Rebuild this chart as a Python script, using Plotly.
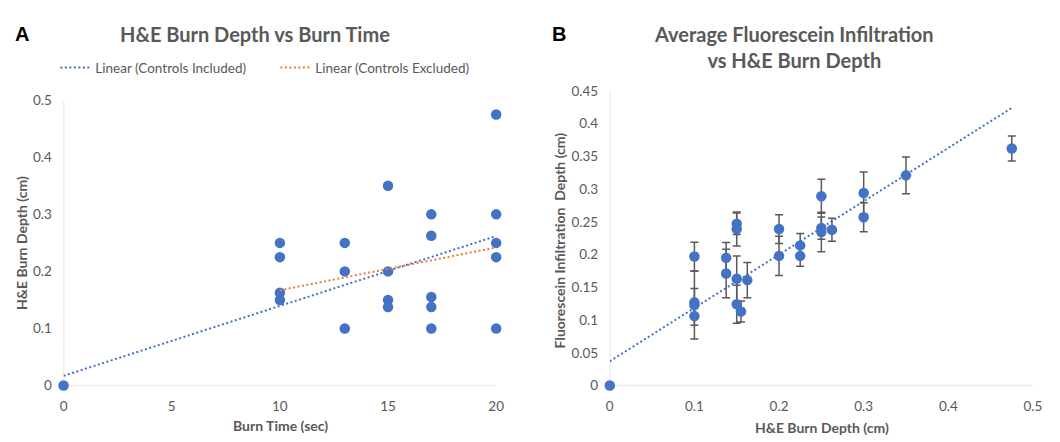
import plotly.graph_objects as go

# ---------------- Panel A data ----------------
burn_time = [0, 10, 10, 10, 10, 13, 13, 13, 15, 15, 15, 15, 17, 17, 17, 17, 17, 20, 20, 20, 20, 20]
burn_depth = [0, 0.25, 0.225, 0.1625, 0.15, 0.25, 0.2, 0.1, 0.35, 0.2, 0.15, 0.1375,
              0.3, 0.2625, 0.155, 0.1375, 0.1, 0.475, 0.3, 0.25, 0.225, 0.1]
trend_incl_x = [0, 20]
trend_incl_y = [0.017, 0.262]
trend_excl_x = [10, 20]
trend_excl_y = [0.167, 0.242]

# ---------------- Panel B data ----------------
he_depth = [0, 0.1, 0.1, 0.1, 0.1, 0.1375, 0.1375, 0.15, 0.15, 0.15, 0.15, 0.155, 0.1625,
            0.2, 0.2, 0.225, 0.225, 0.25, 0.25, 0.25, 0.2625, 0.3, 0.3, 0.35, 0.475]
fluor_depth = [0, 0.197, 0.127, 0.123, 0.106, 0.195, 0.171, 0.247, 0.239, 0.163, 0.124, 0.113, 0.161,
               0.239, 0.198, 0.214, 0.198, 0.289, 0.2405, 0.2345, 0.238, 0.294, 0.257, 0.321, 0.362]
fluor_err = [None, 0.022, 0.021, 0.052, 0.014, 0.0235, 0.037, 0.0165, 0.026, 0.035, 0.029, 0.016, 0.027,
             0.022, 0.030, 0.018, 0.016, 0.026, 0.017, 0.030, 0.0175, 0.032, 0.022, 0.028, 0.019]
trend_b_x = [0, 0.475]
trend_b_y = [0.037, 0.424]

BLUE = "#4472C4"
ORANGE = "#ED7D31"
GREY = "#595959"
AXIS = "#D9D9D9"
FONT = "Lato, Carlito, Calibri, sans-serif"

W, H = 1060, 442

fig = go.Figure()

# Panel A
fig.add_trace(go.Scatter(x=burn_time, y=burn_depth, mode="markers",
                         marker=dict(color=BLUE, size=10.5), showlegend=False,
                         cliponaxis=False, xaxis="x", yaxis="y"))
fig.add_trace(go.Scatter(x=trend_incl_x, y=trend_incl_y, mode="lines",
                         line=dict(color=BLUE, width=2, dash="2px,2.5px"),
                         name="Linear (Controls Included)", xaxis="x", yaxis="y"))
fig.add_trace(go.Scatter(x=trend_excl_x, y=trend_excl_y, mode="lines",
                         line=dict(color=ORANGE, width=2, dash="2px,2.5px"),
                         name="Linear (Controls Excluded)", xaxis="x", yaxis="y"))

# Panel B
fig.add_trace(go.Scatter(x=trend_b_x, y=trend_b_y, mode="lines",
                         line=dict(color=BLUE, width=2, dash="2px,2.5px"),
                         showlegend=False, xaxis="x2", yaxis="y2"))
fig.add_trace(go.Scatter(x=he_depth, y=fluor_depth, mode="markers",
                         marker=dict(color=BLUE, size=10.5), showlegend=False,
                         error_y=dict(type="data", array=fluor_err, visible=True,
                                      color=GREY, thickness=1.5, width=4),
                         cliponaxis=False, xaxis="x2", yaxis="y2"))

def px_x(p):
    return p / W

def px_y(p):
    return 1 - p / H

axis_common = dict(showgrid=False, zeroline=False, showline=False,
                   tickfont=dict(family=FONT, size=13.5, color=GREY),
                   ticks="outside", tickcolor="rgba(0,0,0,0)")

fig.update_layout(
    width=W, height=H,
    margin=dict(l=0, r=0, t=0, b=0),
    paper_bgcolor="white", plot_bgcolor="white",
    font=dict(family=FONT, color=GREY),
    xaxis=dict(domain=[px_x(60.3), px_x(498.3)], range=[0, 20], tickvals=[0, 5, 10, 15, 20],
               ticklen=8, anchor="y", **axis_common),
    yaxis=dict(domain=[px_y(391.7), px_y(95.7)], range=[0, 0.5],
               tickvals=[0, 0.1, 0.2, 0.3, 0.4, 0.5], ticklen=8, anchor="x", **axis_common),
    xaxis2=dict(domain=[px_x(613.3), px_x(1041.7)], range=[0, 0.5],
                tickvals=[0, 0.1, 0.2, 0.3, 0.4, 0.5], ticklen=8, anchor="y2", **axis_common),
    yaxis2=dict(domain=[px_y(391.7), px_y(86)], range=[0, 0.45],
                tickvals=[0, 0.05, 0.1, 0.15, 0.2, 0.25, 0.3, 0.35, 0.4, 0.45],
                ticklen=8, anchor="x2", **axis_common),
    legend=dict(orientation="h", x=px_x(52), y=px_y(62), xanchor="left", yanchor="middle",
                font=dict(family=FONT, size=13.5, color=GREY),
                entrywidth=175, entrywidthmode="pixels",
                bgcolor="rgba(0,0,0,0)", borderwidth=0, tracegroupgap=0),
    showlegend=True,
)

# Axis lines (x = 0 and y = 0)
fig.add_shape(type="line", xref="x", yref="y", x0=0, x1=20, y0=0, y1=0,
              line=dict(color=AXIS, width=1.3), layer="below")
fig.add_shape(type="line", xref="x", yref="y", x0=0, x1=0, y0=0, y1=0.5,
              line=dict(color=AXIS, width=1.3), layer="below")
fig.add_shape(type="line", xref="x2", yref="y2", x0=0, x1=0.5, y0=0, y1=0,
              line=dict(color=AXIS, width=1.3), layer="below")
fig.add_shape(type="line", xref="x2", yref="y2", x0=0, x1=0, y0=0, y1=0.45,
              line=dict(color=AXIS, width=1.3), layer="below")

annotations = [
    dict(text="<b>A</b>", x=px_x(18), y=px_y(27), font=dict(family="Arial", size=20, color="black")),
    dict(text="<b>B</b>", x=px_x(562), y=px_y(27), font=dict(family="Arial", size=20, color="black")),
    dict(text="<b>H&E Burn Depth vs Burn Time</b>", x=px_x(254), y=px_y(27),
         font=dict(family=FONT, size=20, color=GREY)),
    dict(text="<b>Average Fluorescein Infiltration<br>vs H&E Burn Depth</b>", x=px_x(800), y=px_y(40),
         font=dict(family=FONT, size=20, color=GREY)),
    dict(text="<b>Burn Time (sec)</b>", x=px_x(280), y=px_y(433),
         font=dict(family=FONT, size=14, color=GREY)),
    dict(text="<b>H&E Burn Depth (cm)</b>", x=px_x(17), y=px_y(244), textangle=-90,
         font=dict(family=FONT, size=14, color=GREY)),
    dict(text="<b>H&E Burn Depth (cm)</b>", x=px_x(828), y=px_y(435),
         font=dict(family=FONT, size=14, color=GREY)),
    dict(text="<b>Fluorescein Infiltration  Depth (cm)</b>", x=px_x(562), y=px_y(241), textangle=-90,
         font=dict(family=FONT, size=14, color=GREY)),
]
for a in annotations:
    a.update(xref="paper", yref="paper", showarrow=False, xanchor="center", yanchor="middle")
fig.update_layout(annotations=annotations)

fig.write_html("out.html", config={"displayModeBar": False},
               post_script="document.body.style.margin='0';")
